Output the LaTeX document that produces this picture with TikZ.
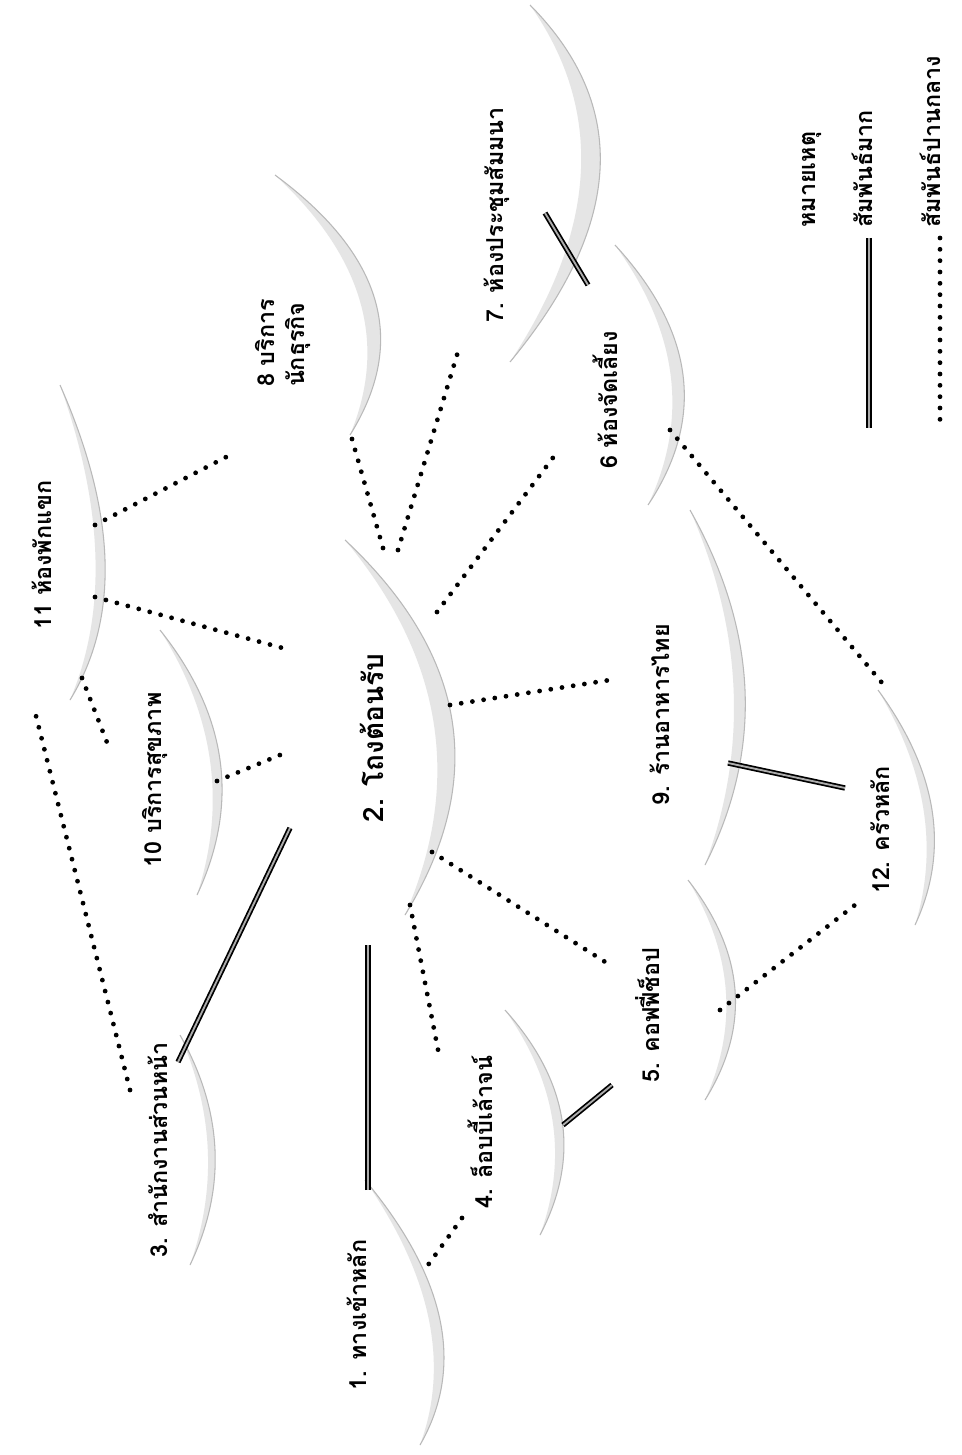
\documentclass[tikz,border=0pt]{standalone}
\usepackage{fontspec}
\setmainfont[Script=Thai]{Loma}
\usetikzlibrary{calc}
\tikzset{
  lbl/.style={rotate=90, font=\bfseries\fontsize{17.5}{22}\selectfont, inner sep=0pt, align=left},
  biglbl/.style={rotate=90, font=\bfseries\fontsize{21}{25}\selectfont, inner sep=0pt},
  midrel/.style={line width=3.6pt, line cap=round, dash pattern=on 0pt off 8.5pt, black},
  strongrel/.style={draw=black, line width=1.3pt, double=gray!65, double distance=1.4pt},
  arcfill/.style={fill=gray!20},
  arcedge/.style={draw=gray!55, line width=0.8pt},
}
\newcommand\crescent[3]{%
  \path #1 coordinate (cS) #2 coordinate (cM) #3 coordinate (cE);
  \coordinate (cMi) at ($0.76*(cM)+0.12*(cS)+0.12*(cE)$);
  \fill[arcfill] (cS) .. controls ($1.3333*(cM)-0.3333*(cE)$) and ($1.3333*(cM)-0.3333*(cS)$) .. (cE)
     .. controls ($1.3333*(cMi)-0.3333*(cS)$) and ($1.3333*(cMi)-0.3333*(cE)$) .. (cS) -- cycle;
  \draw[arcedge] (cS) .. controls ($1.3333*(cM)-0.3333*(cE)$) and ($1.3333*(cM)-0.3333*(cS)$) .. (cE);}
\begin{document}
\begin{tikzpicture}[x=0.75pt,y=-0.75pt]
\fill[white] (0,0) rectangle (961,1455);
\useasboundingbox (0,0) rectangle (961,1455);

% arcs (crescents)
\crescent{(365,1180)}{(440,1320)}{(420,1445)}
\crescent{(345,540)}{(452,720)}{(405,915)}
\crescent{(180,1035)}{(215,1150)}{(190,1265)}
\crescent{(505,1010)}{(562,1120)}{(540,1235)}
\crescent{(688,880)}{(735,990)}{(705,1100)}
\crescent{(615,245)}{(683,375)}{(648,505)}
\crescent{(530,5)}{(600,170)}{(510,362)}
\crescent{(275,175)}{(375,300)}{(350,435)}
\crescent{(690,510)}{(745,690)}{(705,865)}
\crescent{(160,630)}{(220,760)}{(197,895)}
\crescent{(60,385)}{(105,560)}{(70,700)}
\crescent{(878,690)}{(932,810)}{(915,925)}

% labels
\node[lbl] (n1) at (357,1315) {1. ทางเข้าหลัก};
\node[biglbl] (n2) at (372,738) {2. โถงต้อนรับ};
\node[lbl] (n3) at (158,1150) {3. สำนักงานส่วนหน้า};
\node[lbl] (n4) at (480,1132) {4. ล็อบบี้เล้าจน์};
\node[lbl] (n5) at (648,1015) {5. คอฟฟี่ช็อป};
\node[lbl] (n6) at (605,400) {6 ห้องจัดเลี้ยง};
\node[lbl] (n7) at (497,215) {7. ห้องประชุมสัมมนา};
\node[lbl] (n8) at (283,343) {8 บริการ\\นักธุรกิจ};
\node[lbl] (n9) at (660,715) {9. ร้านอาหารไทย};
\node[lbl] (n10) at (155,780) {10 บริการสุขภาพ};
\node[lbl] (n11) at (42,555) {11 ห้องพักแขก};
\node[lbl] (n12) at (880,830) {12. ครัวหลัก};

% legend
\node[lbl, anchor=west] (lg) at (812,228) {หมายเหตุ};
\node[lbl, anchor=west] (lgs) at (862,228) {สัมพันธ์มาก};
\node[lbl, anchor=west] (lgm) at (930,228) {สัมพันธ์ปานกลาง};
\coordinate (lgsa) at (869,238); \coordinate (lgsb) at (869,428);
\coordinate (lgma) at (940,238); \coordinate (lgmb) at (940,426);
\draw[strongrel] (lgsa) -- (lgsb);
\draw[midrel] (lgma) -- (lgmb);

% connector end points
\coordinate (c11a) at (95,525);  \coordinate (c8a) at (230,455);
\coordinate (c11b) at (95,597);  \coordinate (c2a) at (290,650);
\coordinate (c11c) at (82,678);  \coordinate (c10a) at (108,745);
\coordinate (c3a) at (130,1090); \coordinate (c11d) at (35,712);
\coordinate (c10b) at (217,781); \coordinate (c2b) at (280,755);
\coordinate (c2c) at (383,548);  \coordinate (c8b) at (350,432);
\coordinate (c2d) at (398,550);  \coordinate (c7a) at (460,345);
\coordinate (c2e) at (437,612);  \coordinate (c6a) at (555,455);
\coordinate (c2f) at (450,705);  \coordinate (c9a) at (610,680);
\coordinate (c2g) at (432,852);  \coordinate (c5a) at (610,965);
\coordinate (c2h) at (410,905);  \coordinate (c4a) at (440,1060);
\coordinate (c4b) at (462,1218); \coordinate (c1a) at (428,1265);
\coordinate (c6b) at (670,430);  \coordinate (c12a) at (888,690);
\coordinate (c5b) at (720,1010); \coordinate (c12b) at (855,905);

\coordinate (s1) at (368,1190);  \coordinate (s2) at (368,945);
\coordinate (s3) at (178,1062);  \coordinate (s2b) at (290,828);
\coordinate (s4) at (563,1125);  \coordinate (s5) at (612,1085);
\coordinate (s9) at (728,763);   \coordinate (s12) at (845,788);
\coordinate (s7) at (545,213);   \coordinate (s6) at (588,285);

% medium relations (dotted)
\draw[midrel] (c11a) -- (c8a);
\draw[midrel] (c11b) -- (c2a);
\draw[midrel] (c11c) -- (c10a);
\draw[midrel] (c3a) -- (c11d);
\draw[midrel] (c10b) -- (c2b);
\draw[midrel] (c2c) -- (c8b);
\draw[midrel] (c2d) -- (c7a);
\draw[midrel] (c2e) -- (c6a);
\draw[midrel] (c2f) -- (c9a);
\draw[midrel] (c2g) -- (c5a);
\draw[midrel] (c2h) -- (c4a);
\draw[midrel] (c4b) -- (c1a);
\draw[midrel] (c6b) -- (c12a);
\draw[midrel] (c5b) -- (c12b);

% strong relations (solid)
\draw[strongrel] (s1) -- (s2);
\draw[strongrel] (s3) -- (s2b);
\draw[strongrel] (s4) -- (s5);
\draw[strongrel] (s9) -- (s12);
\draw[strongrel] (s7) -- (s6);
\end{tikzpicture}
\end{document}
